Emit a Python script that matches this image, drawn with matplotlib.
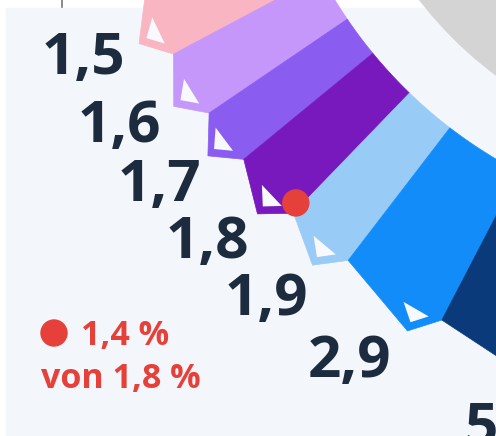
import numpy as np
import matplotlib.pyplot as plt
from matplotlib.patches import Polygon, Circle, Rectangle

# values shown on the ring, in the order they appear (top-left to bottom-right)
labels = ["1,5", "1,6", "1,7", "1,8", "1,9", "2,9", "5"]
values = [1.5, 1.6, 1.7, 1.8, 1.9, 2.9, 5.0]
spans = [6.0, 6.2, 5.2, 6.6, 6.5, 10.0, 13.5]   # angular width of each wedge (deg)
colors = ["#f9b5c2", "#c597fb", "#8a5cf0", "#7719bd", "#99cbf7", "#128cf8", "#0b3a7a"]

highlight_value = 1.4
highlight_of = 1.8

BG = "#f3f6fa"
INK = "#1c2b3e"
RED = "#e5413a"

# geometry of the (mostly off-screen) ring, in pixels
CX, CY = 736, -245
R_DISC = 400
R_IN = 470
R_OUT = 637
R_TIP = 663
R_LAB = 720
START = 22.0


def pt(r, ang):
    a = np.radians(ang)
    return CX - r * np.cos(a), CY + r * np.sin(a)


fig = plt.figure(figsize=(4.96, 4.36), dpi=100)
ax = fig.add_axes([0, 0, 1, 1])
ax.set_xlim(0, 496)
ax.set_ylim(436, 0)
ax.set_aspect("equal")
ax.axis("off")
fig.patch.set_facecolor("white")

ax.add_patch(Rectangle((6, 8), 500, 440, color=BG, zorder=0))
ax.plot([62, 62], [0, 7], color="#777777", lw=1.2, zorder=1)

ax.add_patch(Circle((CX, CY), R_DISC, color="#d4d4d4", zorder=1))

a0 = START
for i, (lab, span, col) in enumerate(zip(labels, spans, colors)):
    a1 = a0 + span
    corner = a1 - 2.2
    arc = [pt(R_IN, a) for a in np.linspace(a0, a1, 30)]
    outer = [pt(R_OUT, a1), pt(R_TIP, corner), pt(R_OUT, a0)]
    ax.add_patch(Polygon(arc + outer, closed=True, facecolor=col,
                         edgecolor=col, lw=0.5, zorder=2))
    # small white notch in the pointed corner
    tri = [pt(640, corner - 1.6), pt(654, corner - 0.15), pt(640, corner + 1.0)]
    ax.add_patch(Polygon(tri, closed=True, facecolor="#f7f9fc", lw=0, zorder=3))

    lx, ly = pt(R_LAB, (a0 + a1) / 2)
    ax.text(lx, ly, lab, ha="center", va="center", fontsize=42,
            family="Open Sans", fontweight="bold", color=INK, zorder=4)

    if values[i] == highlight_of:
        dx, dy = pt(R_OUT - 9, a1 - 0.5)
        ax.add_patch(Circle((dx, dy), 13, color=RED, zorder=5))
    a0 = a1

# legend for the red marker
ax.add_patch(Circle((54, 333), 13, color=RED, zorder=5))
hv = f"{highlight_value:.1f}".replace(".", ",")
ov = f"{highlight_of:.1f}".replace(".", ",")
ax.text(81, 345, f"{hv} %", ha="left", va="baseline", fontsize=24.5,
        family="Open Sans", fontweight="bold", color=RED)
ax.text(41, 388, f"von {ov} %", ha="left", va="baseline", fontsize=24.5,
        family="Open Sans", fontweight="bold", color=RED)

fig.savefig("out.png", dpi=100, facecolor=fig.get_facecolor())
